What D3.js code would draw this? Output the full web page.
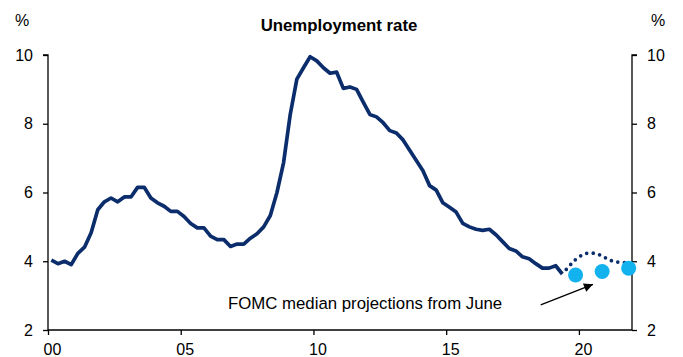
<!DOCTYPE html>
<html>
<head>
<meta charset="utf-8">
<script src="https://cdn.jsdelivr.net/npm/d3@7"></script>
<style>
    body { margin: 0; background: #fff; }
    svg { display: block; font-family: "Liberation Sans", Arial, sans-serif; }
</style>
</head>
<body>
<svg width="683" height="357"></svg>
<script>
// Quarterly unemployment rate, 2000 Q1 - 2019 Q2
const startYear = 2000;
const unemployment = [
    4.03, 3.93, 4.00, 3.90,
    4.23, 4.41, 4.83, 5.50,
    5.73, 5.84, 5.73, 5.87,
    5.87, 6.15, 6.15, 5.84,
    5.70, 5.60, 5.45, 5.45,
    5.30, 5.10, 4.97, 4.97,
    4.73, 4.63, 4.63, 4.43,
    4.50, 4.50, 4.67, 4.80,
    5.00, 5.33, 6.00, 6.87,
    8.27, 9.30, 9.63, 9.95,
    9.83, 9.63, 9.47, 9.50,
    9.03, 9.07, 9.00, 8.63,
    8.27, 8.20, 8.03, 7.80,
    7.73, 7.53, 7.23, 6.93,
    6.63, 6.20, 6.07, 5.70,
    5.57, 5.43, 5.10, 5.00,
    4.93, 4.90, 4.93, 4.77,
    4.57, 4.37, 4.30, 4.13,
    4.07, 3.93, 3.80, 3.80,
    3.87, 3.63
];
// Projected path (dotted), quarterly from 2019 Q2
const projection = [3.63, 3.85, 4.05, 4.18, 4.24, 4.23, 4.15, 4.05, 3.98, 3.97, 3.95];
// FOMC median projections from June (Q4 of each year)
const fomcYears = [2019, 2020, 2021];
const fomcValues = [3.6, 3.7, 3.8];

const xTicks = [2000, 2005, 2010, 2015, 2020];
const yTicks = [2, 4, 6, 8, 10];

function drawChart() {
    const svg = d3.select('svg');
    const padding = { top: 55, right: 51, bottom: 27, left: 48 };
    const width = 683;
    const height = 357;
    const navy = '#0b2d6b';
    const cyan = '#12b2ee';

    const xScale = d3.scaleLinear()
        .domain([2000, 2022])
        .range([padding.left, width - padding.right]);
    const yScale = d3.scaleLinear()
        .domain([2, 10])
        .range([height - padding.bottom, padding.top]);

    const quarterX = (i, first) => first + (i + 0.5) / 4;
    const actual = unemployment.map((v, i) => [quarterX(i, startYear), v]);
    const lastQ = unemployment.length - 1;
    const proj = projection.map((v, i) => [quarterX(lastQ + i, startYear), v]);

    // Axes
    const yAxisL = d3.axisLeft(yScale).tickValues(yTicks).tickSize(5).tickPadding(10);
    const yAxisR = d3.axisRight(yScale).tickValues(yTicks).tickSize(5).tickPadding(10);
    const xAxis = d3.axisBottom(xScale).tickValues(xTicks).tickSize(5).tickPadding(9)
        .tickFormat(d => String(d % 100).padStart(2, '0'));

    const styleAxis = g => {
        g.select('.domain').attr('stroke', '#000').attr('stroke-width', 1.3);
        g.selectAll('.tick line').attr('stroke', '#000').attr('stroke-width', 1.3);
        g.selectAll('.tick text')
            .attr('fill', '#000')
            .style('font-size', '16px')
            .style('font-family', '"Liberation Sans", Arial, sans-serif');
    };

    svg.append('g')
        .attr('transform', `translate(${padding.left}, 0)`)
        .call(yAxisL)
        .call(g => g.select('.domain').attr('d', `M-5,${padding.top}H0V${height - padding.bottom}`))
        .call(styleAxis);
    svg.append('g')
        .attr('transform', `translate(${width - padding.right}, 0)`)
        .call(yAxisR)
        .call(g => g.select('.domain').attr('d', `M5,${padding.top}H0V${height - padding.bottom}`))
        .call(styleAxis);
    svg.append('g')
        .attr('transform', `translate(0, ${height - padding.bottom})`)
        .call(xAxis)
        .call(g => g.select('.domain').attr('d', `M${padding.left},0H${width - padding.right}`))
        .call(styleAxis)
        .call(g => g.selectAll('.tick text').attr('dx', 4));

    // Lines
    const line = d3.line()
        .x(d => xScale(d[0]))
        .y(d => yScale(d[1]));

    svg.append('path')
        .datum(actual)
        .attr('d', line)
        .attr('fill', 'none')
        .attr('stroke', navy)
        .attr('stroke-width', 3.7)
        .attr('stroke-linejoin', 'round');

    svg.append('path')
        .datum(proj)
        .attr('d', line.curve(d3.curveMonotoneX))
        .attr('fill', 'none')
        .attr('stroke', navy)
        .attr('stroke-width', 3.7)
        .attr('stroke-linecap', 'round')
        .attr('stroke-dasharray', '0 6.6')
        .attr('stroke-dashoffset', -6);

    // FOMC dots
    svg.selectAll('circle.fomc')
        .data(fomcYears.map((y, i) => [y + 0.875, fomcValues[i]]))
        .join('circle')
        .attr('class', 'fomc')
        .attr('cx', d => xScale(d[0]))
        .attr('cy', d => yScale(d[1]))
        .attr('r', 7.5)
        .attr('fill', cyan);

    // Annotation
    svg.append('defs').append('marker')
        .attr('id', 'arrow')
        .attr('viewBox', '0 0 10 10')
        .attr('refX', 10)
        .attr('refY', 5)
        .attr('markerWidth', 11)
        .attr('markerHeight', 9)
        .attr('markerUnits', 'userSpaceOnUse')
        .attr('orient', 'auto')
        .append('path')
        .attr('d', 'M0,0L10,5L0,10Z')
        .attr('fill', '#000');

    svg.append('line')
        .attr('x1', xScale(2018.56))
        .attr('y1', yScale(2.73))
        .attr('x2', xScale(2020.53))
        .attr('y2', yScale(3.33))
        .attr('stroke', '#000')
        .attr('stroke-width', 1.3)
        .attr('marker-end', 'url(#arrow)');

    svg.append('text')
        .text('FOMC median projections from June')
        .attr('x', xScale(2006.78))
        .attr('y', 309)
        .style('font-size', '16.8px');

    // Labels
    svg.append('text')
        .text('Unemployment rate')
        .attr('x', 339)
        .attr('y', 31)
        .style('text-anchor', 'middle')
        .style('font-weight', 'bold')
        .style('font-size', '16.8px');
    svg.append('text')
        .text('%')
        .attr('x', 15)
        .attr('y', 26)
        .style('font-size', '16px');
    svg.append('text')
        .text('%')
        .attr('x', 651)
        .attr('y', 26)
        .style('font-size', '16px');
}

window.addEventListener('load', drawChart);
</script>
</body>
</html>
